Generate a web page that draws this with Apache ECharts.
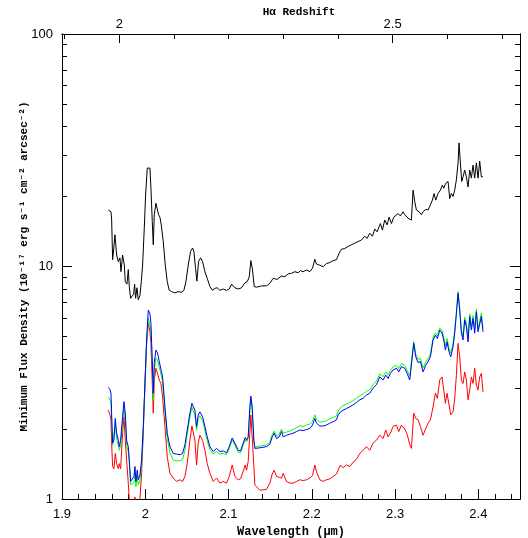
<!DOCTYPE html>
<html>
<head>
<meta charset="utf-8">
<script src="https://cdn.jsdelivr.net/npm/echarts@6/dist/echarts.min.js"></script>
<style>
html,body{margin:0;padding:0;background:#fff;}
#chart{width:528px;height:538px;}
</style>
</head>
<body>
<div id="chart"></div>
<script>
// ---------- data ----------
const blackWl = [
1.9556,1.9570,1.9588,1.9596,1.9608,1.9622,1.9636,1.9656,1.9676,1.9696,
1.9708,1.9728,1.9748,1.9760,1.9780,1.9796,1.9808,1.9824,1.9844,1.9860,
1.9872,1.9884,1.9900,1.9916,1.9936,1.9952,1.9968,1.9988,2.0004,2.0024,
2.0040,2.0056,2.0068,2.0084,2.0096,2.0108,2.0128,2.0144,2.0160,2.0176,
2.0192,2.0216,2.0240,2.0264,2.0288,2.0316,2.0356,2.0396,2.0436,2.0464,
2.0488,2.0516,2.0544,2.0568,2.0584,2.0604,2.0620,2.0640,2.0664,2.0688,
2.0716,2.0744,2.0776,2.0808,2.0836,2.0864,2.0896,2.0936,2.0976,2.1008,
2.1036,2.1076,2.1116,2.1156,2.1196,2.1224,2.1248,2.1268,2.1288,2.1308,
2.1336,2.1396,2.1456,2.1496,2.1536,2.1560,2.1584,2.1608,2.1636,2.1676,
2.1716,2.1756,2.1796,2.1836,2.1864,2.1896,2.1936,2.1976,2.2008,2.2036,
2.2056,2.2088,2.2136,2.2176,2.2216,2.2256,2.2296,2.2328,2.2356,2.2396,
2.2436,2.2476,2.2516,2.2556,2.2596,2.2636,2.2664,2.2696,2.2728,2.2756,
2.2784,2.2824,2.2848,2.2876,2.2904,2.2928,2.2956,2.2984,2.3008,2.3036,
2.3064,2.3096,2.3116,2.3136,2.3168,2.3196,2.3216,2.3236,2.3256,2.3288,
2.3316,2.3336,2.3368,2.3396,2.3424,2.3448,2.3468,2.3488,2.3516,2.3544,
2.3568,2.3584,2.3608,2.3636,2.3656,2.3676,2.3696,2.3716,2.3736,2.3756,
2.3768,2.3784,2.3800,2.3816,2.3836,2.3856,2.3876,2.3896,2.3916,2.3936,
2.3956,2.3976,2.3996,2.4016,2.4036,2.4056
];
const blackFlux = [
17.5,17.3,17.2,16.0,10.7,12.0,13.7,11.2,10.5,10.9,
9.5,11.2,10.15,8.6,8.4,9.7,8.2,7.3,7.3,7.6,
8.4,7.3,8.1,7.2,7.5,8.6,10.15,14.6,20.3,26.5,
26.0,26.5,21.8,15.6,12.4,16.7,18.7,18.4,16.7,16.3,
15.1,12.8,10.15,8.6,7.9,7.8,7.7,7.8,7.75,7.9,
8.6,10.15,11.6,12.0,11.6,9.8,8.65,10.5,10.9,10.5,
9.5,8.9,8.2,7.9,8.05,8.1,7.9,8.0,7.9,8.0,
8.4,8.1,8.0,8.1,8.5,8.6,9.0,10.6,9.66,8.2,
8.15,8.25,8.26,8.47,8.9,8.97,8.8,8.9,9.1,9.04,
9.29,9.35,9.5,9.4,9.6,9.5,9.66,9.5,9.83,10.74,
10.25,10.15,9.98,10.3,10.4,10.6,10.7,11.4,11.86,11.95,
12.2,12.4,12.6,12.8,13.0,13.5,13.2,13.9,13.5,14.5,
14.1,15.3,14.35,15.85,15.1,16.3,15.3,16.3,16.0,16.9,
16.5,17.2,16.7,16.4,16.0,15.85,21.3,19.0,17.5,17.2,
16.7,17.2,17.6,17.5,18.4,19.3,20.6,19.3,20.6,21.3,
22.4,21.7,22.8,23.2,19.6,20.6,20.0,21.3,23.6,27.9,
34.0,27.9,23.2,24.3,26.0,24.3,22.0,26.0,24.0,27.3,
24.0,27.9,24.0,28.4,24.3,24.3
];

const colorWl = [
1.9556,1.9576,1.9588,1.9600,1.9608,1.9624,1.9640,1.9656,1.9676,1.9688,
1.9704,1.9728,1.9744,1.9760,1.9776,1.9796,1.9808,1.9824,1.9844,1.9864,
1.9876,1.9888,1.9904,1.9916,1.9936,1.9956,1.9976,1.9996,2.0016,2.0036,
2.0056,2.0068,2.0084,2.0096,2.0108,2.0128,2.0148,2.0168,2.0188,2.0208,
2.0236,2.0264,2.0296,2.0336,2.0376,2.0416,2.0448,2.0476,2.0504,2.0536,
2.0560,2.0580,2.0596,2.0616,2.0636,2.0656,2.0688,2.0716,2.0744,2.0776,
2.0816,2.0856,2.0896,2.0936,2.0976,2.1008,2.1044,2.1076,2.1116,2.1144,
2.1176,2.1200,2.1216,2.1236,2.1256,2.1268,2.1284,2.1304,2.1316,2.1376,
2.1456,2.1496,2.1524,2.1548,2.1576,2.1608,2.1636,2.1656,2.1696,2.1736,
2.1776,2.1816,2.1856,2.1896,2.1936,2.1976,2.2008,2.2036,2.2056,2.2096,
2.2136,2.2176,2.2216,2.2256,2.2296,2.2316,2.2344,2.2376,2.2416,2.2456,
2.2496,2.2536,2.2576,2.2616,2.2656,2.2696,2.2736,2.2776,2.2816,2.2856,
2.2888,2.2916,2.2944,2.2976,2.3016,2.3044,2.3076,2.3116,2.3144,2.3176,
2.3196,2.3224,2.3248,2.3276,2.3304,2.3336,2.3368,2.3396,2.3424,2.3456,
2.3484,2.3508,2.3536,2.3564,2.3584,2.3604,2.3624,2.3648,2.3668,2.3696,
2.3716,2.3736,2.3756,2.3776,2.3796,2.3816,2.3836,2.3856,2.3876,2.3896,
2.3916,2.3936,2.3956,2.3976,2.3996,2.4016,2.4036,2.4056
];
const blueFlux = [
3.02,2.96,2.85,2.10,1.74,1.79,2.22,1.92,1.79,1.68,
1.79,2.26,2.62,2.34,1.79,1.68,1.47,1.19,1.19,1.25,
1.38,1.19,1.33,1.21,1.27,1.47,2.05,3.14,4.83,6.50,
6.27,5.69,3.96,2.85,3.86,4.37,4.24,3.90,3.86,3.35,
2.49,1.92,1.68,1.57,1.56,1.55,1.57,1.71,1.98,2.34,
2.58,2.58,2.41,2.05,2.30,2.37,2.26,2.05,1.85,1.68,
1.60,1.65,1.60,1.61,1.58,1.68,1.83,1.74,1.62,1.61,
1.74,1.84,1.79,1.85,2.49,2.77,2.49,1.79,1.65,1.66,
1.68,1.72,1.85,1.92,1.82,1.85,1.95,1.85,1.88,1.90,
1.92,1.95,1.98,1.97,1.99,2.01,2.08,2.22,2.12,2.06,
2.06,2.08,2.12,2.15,2.19,2.30,2.37,2.41,2.45,2.49,
2.54,2.60,2.67,2.71,2.80,2.85,3.00,3.10,3.35,3.25,
3.41,3.30,3.47,3.59,3.65,3.52,3.71,3.65,3.47,3.25,
3.20,4.67,4.09,3.86,3.90,3.52,3.76,3.90,4.09,4.83,
5.06,4.90,5.33,5.17,4.83,4.37,4.74,4.29,4.09,4.51,
5.17,6.27,7.67,6.50,5.17,4.83,5.89,5.51,4.74,6.09,
5.33,5.98,5.17,6.39,5.24,5.33,6.09,5.24
];
const greenFlux = [
2.74,2.70,2.62,2.00,1.70,1.72,2.12,1.82,1.70,1.62,
1.70,2.15,2.45,2.20,1.70,1.60,1.42,1.15,1.14,1.18,
1.30,1.13,1.25,1.15,1.20,1.42,2.00,3.05,4.60,6.00,
5.90,5.30,3.80,2.65,3.60,4.04,3.95,3.70,3.65,3.20,
2.38,1.82,1.58,1.47,1.46,1.46,1.48,1.62,1.90,2.25,
2.48,2.48,2.30,1.98,2.22,2.28,2.18,1.98,1.78,1.63,
1.56,1.60,1.56,1.57,1.55,1.64,1.80,1.70,1.59,1.58,
1.70,1.80,1.76,1.82,2.40,2.70,2.42,1.78,1.67,1.69,
1.71,1.76,1.89,1.96,1.86,1.90,2.00,1.92,1.94,1.96,
1.99,2.02,2.07,2.05,2.08,2.10,2.16,2.30,2.20,2.14,
2.15,2.17,2.21,2.24,2.28,2.39,2.47,2.52,2.56,2.60,
2.65,2.71,2.78,2.83,2.90,2.96,3.10,3.22,3.45,3.36,
3.52,3.42,3.58,3.70,3.76,3.64,3.82,3.76,3.58,3.38,
3.32,4.75,4.20,3.98,4.02,3.66,3.88,4.02,4.20,4.95,
5.18,5.02,5.45,5.30,4.98,4.55,4.90,4.45,4.25,4.65,
5.30,6.35,7.80,6.65,5.35,5.00,6.05,5.68,4.95,6.25,
5.50,6.15,5.35,6.55,5.40,5.48,6.30,5.40
];
const redFlux = [
2.41,2.30,2.20,1.60,1.38,1.35,1.57,1.42,1.35,1.42,
1.35,1.92,2.26,1.79,1.47,1.17,0.98,0.85,0.90,0.95,
1.02,0.90,0.98,0.88,1.00,1.29,1.92,3.14,4.67,5.69,
5.24,4.67,3.14,2.34,3.25,3.65,3.47,3.25,3.14,2.75,
2.05,1.52,1.29,1.23,1.19,1.21,1.19,1.25,1.42,1.79,
2.06,2.05,1.79,1.40,1.74,1.88,1.79,1.62,1.42,1.29,
1.19,1.23,1.17,1.19,1.17,1.25,1.40,1.25,1.21,1.22,
1.32,1.40,1.33,1.45,1.92,2.30,1.85,1.38,1.15,1.09,
1.10,1.17,1.28,1.33,1.25,1.24,1.23,1.29,1.19,1.17,
1.17,1.19,1.21,1.20,1.21,1.23,1.26,1.40,1.31,1.21,
1.19,1.21,1.22,1.25,1.28,1.33,1.40,1.36,1.40,1.38,
1.44,1.48,1.57,1.62,1.68,1.62,1.74,1.79,1.88,1.82,
1.98,1.85,1.92,2.05,2.08,1.95,2.08,2.00,1.90,1.72,
1.65,2.34,2.22,2.19,2.05,1.88,2.01,2.12,2.19,2.49,
2.85,2.71,3.25,3.35,2.94,2.58,2.85,2.54,2.30,2.37,
2.70,3.40,4.67,4.09,3.25,3.14,3.52,3.25,2.67,2.94,
3.35,3.14,3.65,3.09,2.94,3.35,3.47,2.89
];

// axis ticks / labels
const wlMin = 1.9, wlMax = 2.45, wlStep = 0.1;
const haRest = 0.65628;                 // H-alpha rest wavelength (micron)
const zLabelTicks = [2.0, 2.5];         // labelled redshift ticks (long)
const zMinorTicks = [1.9, 2.1, 2.2, 2.3, 2.4, 2.6, 2.7];
const yMajor = [1, 10, 100];
const yMinor = [2,3,4,5,6,7,8,9,20,30,40,50,60,70,80,90];

// ---------- build ----------
const zToWl = z => (1 + z) * haRest;
const pairs = (xs, ys) => xs.map((x, i) => [x, ys[i]]);

const tickFont = "'Liberation Sans', Arial, sans-serif";
const nameFont = "'Liberation Mono', 'DejaVu Sans Mono', monospace";
const lineStyle = { color: '#000', width: 1 };

function topAxis(ticks, len, labels) {
  return {
    type: 'value', position: 'top', min: wlMin, max: wlMax,
    axisLine: { show: true, lineStyle },
    splitLine: { show: false },
    axisTick: { show: true, inside: true, length: len, lineStyle,
                customValues: ticks.map(zToWl) },
    axisLabel: labels ? {
      show: true, customValues: ticks.map(zToWl), margin: 3,
      fontFamily: tickFont, fontSize: 13, color: '#000',
      formatter: v => String(Math.round((v / haRest - 1) * 10) / 10)
    } : { show: false }
  };
}
function logAxis(pos, ticks, len, labels) {
  const ax = {
    type: 'log', logBase: 10, min: 1, max: 100, position: pos,
    axisLine: { show: true, lineStyle },
    splitLine: { show: false },
    axisTick: { show: true, inside: true, length: len, lineStyle, customValues: ticks },
    axisLabel: { show: false }
  };
  if (labels) {
    ax.axisLabel = { show: true, customValues: ticks, margin: 9, fontFamily: tickFont,
                     fontSize: 13, color: '#000', formatter: v => String(Math.round(v)) };
  }
  return ax;
}

// y-axis title carried by the unlabelled minor-tick axis
const yMinorLeft = logAxis('left', yMinor, 5, false);
yMinorLeft.name = 'Minimum Flux Density (10⁻¹⁷ erg s⁻¹ cm⁻² arcsec⁻²)';
yMinorLeft.nameLocation = 'middle';
yMinorLeft.nameRotate = 90;
yMinorLeft.nameGap = 32;
yMinorLeft.nameTextStyle = { fontFamily: nameFont, fontSize: 11, fontWeight: 'bold', color: '#000' };

// top title carried by the unlabelled redshift minor-tick axis
const xTopMinor = topAxis(zMinorTicks, 5, false);
xTopMinor.name = 'Hα Redshift';
xTopMinor.nameLocation = 'middle';
xTopMinor.nameGap = 16;
xTopMinor.nameTextStyle = { fontFamily: nameFont, fontSize: 11, fontWeight: 'bold', color: '#000',
                            padding: [0, 0, 0, 16] };

const option = {
  animation: false,
  backgroundColor: '#fff',
  grid: { left: 62, right: 8, top: 34, bottom: 39, containLabel: false, outerBoundsMode: 'none' },
  xAxis: [
    {
      type: 'value', position: 'bottom', min: wlMin, max: wlMax, interval: wlStep,
      axisLine: { show: true, onZero: false, lineStyle },
      splitLine: { show: false },
      axisTick: { show: true, inside: true, length: 10, lineStyle },
      minorTick: { show: true, splitNumber: 5, length: 5, lineStyle },
      axisLabel: { show: true, margin: 9, fontFamily: tickFont, fontSize: 13, color: '#000',
                   showMinLabel: true, showMaxLabel: false,
                   formatter: v => String(Math.round(v * 10) / 10) },
      name: 'Wavelength (μm)', nameLocation: 'middle', nameGap: 25,
      nameTextStyle: { fontFamily: nameFont, fontSize: 12, fontWeight: 'bold', color: '#000' }
    },
    topAxis(zLabelTicks, 9, true),
    xTopMinor
  ],
  yAxis: [
    logAxis('left', yMajor, 10, true),
    yMinorLeft,
    logAxis('right', yMajor, 10, false),
    logAxis('right', yMinor, 5, false)
  ],
  series: [
    { name: 'black', type: 'line', data: pairs(blackWl, blackFlux), showSymbol: false, symbol: 'none',
      clip: true, lineStyle: { color: '#000', width: 1 }, xAxisIndex: 0, yAxisIndex: 0 },
    { name: 'red', type: 'line', data: pairs(colorWl, redFlux), showSymbol: false, symbol: 'none',
      clip: true, lineStyle: { color: '#ff0000', width: 1 }, xAxisIndex: 0, yAxisIndex: 0 },
    { name: 'green', type: 'line', data: pairs(colorWl, greenFlux), showSymbol: false, symbol: 'none',
      clip: true, lineStyle: { color: '#00ff00', width: 1 }, xAxisIndex: 0, yAxisIndex: 0 },
    { name: 'blue', type: 'line', data: pairs(colorWl, blueFlux), showSymbol: false, symbol: 'none',
      clip: true, lineStyle: { color: '#0000ff', width: 1 }, xAxisIndex: 0, yAxisIndex: 0 }
  ]
};

const chart = echarts.init(document.getElementById('chart'), null, { renderer: 'canvas' });
chart.setOption(option);
</script>
</body>
</html>
